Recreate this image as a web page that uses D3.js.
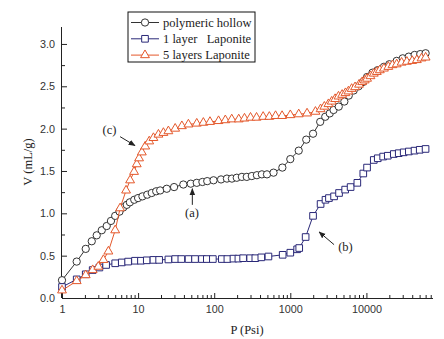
<!DOCTYPE html>
<html lang="en">
  <head>
    <meta charset="UTF-8" />
    <title>Pore volume vs pressure</title>
    <script src="https://d3js.org/d3.v7.min.js"></script>
    <style>
      body { margin: 0; background: #fff; }
      .tick text { font-family: "Liberation Sans", Arial, sans-serif; font-size: 10.8px; fill: #333; }
      .serif { font-family: "Liberation Serif", "Times New Roman", serif; font-size: 12.5px; fill: #222; }
    </style>
  </head>
  <body>
    <div id="chart"></div>
    <script>
      // polymeric hollow (a)
      var hollowP = [1, 1.56, 2.05, 2.46, 2.86, 3.33, 3.87, 4.4, 5, 5.7, 6.4, 7.1, 7.8, 8.9, 10, 11.4, 13.2, 15.1, 17.3, 19.5, 23.8, 29.7, 39.3, 49.2, 59, 70, 81, 98, 123, 147, 171, 198, 231, 268, 312, 364, 423, 494, 602, 786, 1000, 1290, 1620, 1990, 2470, 2880, 3300, 3700, 4330, 5130, 5860, 6800, 7900, 9000, 10200, 12000, 14000, 17000, 20000, 25000, 30000, 36000, 43000, 51000, 60000];
      var hollowV = [0.21, 0.43, 0.58, 0.67, 0.74, 0.8, 0.85, 0.91, 0.97, 1.02, 1.07, 1.1, 1.13, 1.16, 1.18, 1.2, 1.22, 1.24, 1.26, 1.27, 1.29, 1.31, 1.34, 1.35, 1.36, 1.37, 1.38, 1.39, 1.4, 1.41, 1.41, 1.42, 1.43, 1.43, 1.44, 1.45, 1.46, 1.46, 1.48, 1.54, 1.64, 1.74, 1.87, 1.94, 2.08, 2.14, 2.18, 2.22, 2.26, 2.32, 2.39, 2.45, 2.5, 2.55, 2.61, 2.66, 2.69, 2.73, 2.76, 2.8, 2.83, 2.85, 2.87, 2.88, 2.89];

      // 1 layer Laponite (b)
      var oneP = [1, 1.56, 2.05, 2.53, 3.1, 3.8, 5, 6.1, 7.4, 9.1, 10.9, 13, 15.9, 18.9, 25, 30.7, 37, 46, 56, 69, 80, 96, 126, 149, 179, 208, 240, 297, 347, 416, 516, 794, 1000, 1230, 1310, 1590, 1990, 2500, 2900, 3220, 3760, 4370, 5260, 6200, 7600, 9100, 10200, 12500, 14100, 16600, 19100, 22900, 26600, 30900, 36100, 42900, 50200, 59900];
      var oneV = [0.13, 0.22, 0.28, 0.33, 0.36, 0.39, 0.41, 0.42, 0.43, 0.44, 0.44, 0.445, 0.45, 0.45, 0.455, 0.46, 0.46, 0.46, 0.46, 0.46, 0.46, 0.46, 0.46, 0.46, 0.465, 0.465, 0.47, 0.47, 0.47, 0.48, 0.49, 0.51, 0.535, 0.575, 0.59, 0.72, 0.97, 1.11, 1.16, 1.18, 1.2, 1.24, 1.28, 1.31, 1.36, 1.47, 1.54, 1.63, 1.65, 1.67, 1.68, 1.7, 1.71, 1.72, 1.73, 1.74, 1.75, 1.76];

      // 5 layers Laponite (c)
      var fiveP = [1, 1.56, 2.05, 2.53, 3.0, 3.5, 4.07, 5, 5.8, 6.95, 7.85, 8.85, 9.6, 10.3, 11.2, 12.4, 14, 15.9, 18.5, 21.5, 25, 30.7, 37.6, 45.8, 59, 72, 88, 114, 140, 170, 210, 250, 300, 360, 440, 530, 640, 780, 1000, 1290, 1660, 2140, 2500, 2800, 3170, 3500, 3880, 4300, 4800, 5300, 5800, 6400, 7100, 8000, 8800, 9500, 10200, 11300, 12500, 13700, 15000, 17000, 19400, 22000, 25000, 29000, 34000, 40000, 46000, 53000, 60000];
      var fiveV = [0.09, 0.2, 0.27, 0.33, 0.37, 0.45, 0.55, 0.8, 1.06, 1.27, 1.39, 1.49, 1.58, 1.65, 1.72, 1.79, 1.85, 1.89, 1.93, 1.95, 1.97, 2.0, 2.03, 2.05, 2.06, 2.07, 2.08, 2.09, 2.1, 2.11, 2.11, 2.12, 2.13, 2.13, 2.14, 2.14, 2.15, 2.15, 2.16, 2.17, 2.18, 2.2, 2.23, 2.26, 2.29, 2.32, 2.35, 2.38, 2.4, 2.42, 2.44, 2.47, 2.49, 2.52, 2.55, 2.57, 2.59, 2.62, 2.65, 2.67, 2.69, 2.71, 2.73, 2.75, 2.76, 2.78, 2.79, 2.8, 2.81, 2.83, 2.84];

      var seriesNames = ["polymeric hollow", "1 layer   Laponite", "5 layers Laponite"];
      var xMajor = [1, 10, 100, 1000, 10000];
      var xMajorLabels = ["1", "10", "100", "1000", "10000"];
      var yMajor = [0, 0.5, 1.0, 1.5, 2.0, 2.5, 3.0];

      // annotations: label, text position, arrow start, arrow end (data units)
      var notes = [
        { label: "(a)", tx: 51, ty: 0.96, x1: 51.6, y1: 1.1, x2: 51.6, y2: 1.29 },
        { label: "(b)", tx: 5300, ty: 0.55, x1: 3760, y1: 0.63, x2: 2390, y2: 0.78 },
        { label: "(c)", tx: 4.2, ty: 1.94, x1: 5.8, y1: 1.905, x2: 9.1, y2: 1.8 }
      ];

      var W = 444, H = 339;
      var plotL = 62, plotR = 433, plotT = 27, plotB = 298;

      var svg = d3.select("#chart").append("svg").attr("width", W).attr("height", H);

      var defs = svg.append("defs");
      defs.append("marker")
        .attr("id", "arrow")
        .attr("viewBox", "0 0 10 10")
        .attr("refX", 9).attr("refY", 5)
        .attr("markerWidth", 7).attr("markerHeight", 7)
        .attr("markerUnits", "userSpaceOnUse")
        .attr("orient", "auto")
        .append("path").attr("d", "M0,1L10,5L0,9Z").attr("fill", "#222");

      var x = d3.scaleLog().domain([1, 75000]).range([plotL, plotR]);
      var y = d3.scaleLinear().domain([0, 3.2]).range([plotB, plotT]);

      // minor x ticks
      var xMinor = [];
      for (var e = 0; e < 5; e++) {
        for (var m = 2; m < 10; m++) {
          var v = m * Math.pow(10, e);
          if (v < 75000) xMinor.push(v);
        }
      }

      svg.append("g")
        .attr("transform", "translate(0," + plotB + ")")
        .call(d3.axisBottom(x).tickValues(xMinor).tickSize(-3).tickFormat(""))
        .call((g) => g.select(".domain").remove());

      var xAxis = svg.append("g")
        .attr("transform", "translate(0," + plotB + ")")
        .call(d3.axisBottom(x).tickValues(xMajor).tickSize(-5).tickPadding(7)
          .tickFormat((d, i) => xMajorLabels[i]));
      xAxis.select(".domain").attr("d", "M" + plotL + ",0.5H" + plotR);

      svg.append("g")
        .attr("transform", "translate(" + plotL + ",0)")
        .call(d3.axisLeft(y).tickValues(d3.range(0.25, 3.2, 0.5)).tickSize(-3).tickFormat(""))
        .call((g) => g.select(".domain").remove());

      var yAxis = svg.append("g")
        .attr("transform", "translate(" + plotL + ",0)")
        .call(d3.axisLeft(y).tickValues(yMajor).tickSize(-5).tickPadding(7).tickFormat(d3.format(".1f")));
      yAxis.select(".domain").attr("d", "M-0.5," + plotT + "V" + plotB);

      svg.selectAll(".domain, .tick line").attr("stroke", "#222");

      // axis titles
      svg.append("text").attr("class", "serif")
        .attr("x", 247).attr("y", 334).attr("text-anchor", "middle")
        .text("P (Psi)");
      svg.append("text").attr("class", "serif")
        .attr("transform", "translate(32,162) rotate(-90)")
        .attr("text-anchor", "middle")
        .text("V (mL/g)");

      var series = [
        { P: hollowP, V: hollowV, color: "#333333", shape: d3.symbolCircle, size: 42 },
        { P: oneP, V: oneV, color: "#2a2878", shape: d3.symbolSquare, size: 44 },
        { P: fiveP, V: fiveV, color: "#e4582b", shape: d3.symbolTriangle, size: 34 }
      ];

      var line = d3.line().x((d) => x(d[0])).y((d) => y(d[1]));

      series.forEach(function (s) {
        var pts = s.P.map((p, i) => [p, s.V[i]]);
        var g = svg.append("g");
        g.append("path")
          .attr("d", line(pts))
          .attr("fill", "none")
          .attr("stroke", s.color)
          .attr("stroke-width", 1);
        g.selectAll("path.pt")
          .data(pts)
          .enter()
          .append("path")
          .attr("class", "pt")
          .attr("transform", (d) => "translate(" + x(d[0]) + "," + y(d[1]) + ")")
          .attr("d", d3.symbol().type(s.shape).size(s.size))
          .attr("fill", "#fff")
          .attr("stroke", s.color)
          .attr("stroke-width", 1);
      });

      // annotations
      notes.forEach(function (n) {
        svg.append("text").attr("class", "serif")
          .attr("x", x(n.tx)).attr("y", y(n.ty))
          .attr("text-anchor", "middle")
          .text(n.label);
        svg.append("line")
          .attr("x1", x(n.x1)).attr("y1", y(n.y1))
          .attr("x2", x(n.x2)).attr("y2", y(n.y2))
          .attr("stroke", "#222").attr("stroke-width", 1)
          .attr("marker-end", "url(#arrow)");
      });

      // legend
      var lg = svg.append("g").attr("transform", "translate(128,12)");
      lg.append("rect")
        .attr("width", 127).attr("height", 50)
        .attr("fill", "#fff").attr("stroke", "#111").attr("stroke-width", 1);
      series.forEach(function (s, i) {
        var yy = 10.5 + i * 16.3;
        lg.append("line").attr("x1", 3).attr("x2", 31).attr("y1", yy).attr("y2", yy)
          .attr("stroke", s.color).attr("stroke-width", 1);
        lg.append("path")
          .attr("transform", "translate(17," + yy + ")")
          .attr("d", d3.symbol().type(s.shape).size(s.size))
          .attr("fill", "#fff").attr("stroke", s.color);
        lg.append("text").attr("class", "serif")
          .attr("x", 35).attr("y", yy + 4.3)
          .style("white-space", "pre")
          .text(seriesNames[i]);
      });
    </script>
  </body>
</html>
